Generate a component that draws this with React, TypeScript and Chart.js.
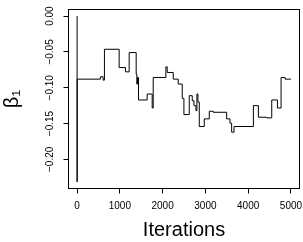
import { useEffect, useRef } from "react";
import { Chart, registerables } from "chart.js";

Chart.register(...registerables);

const iterations = [0, 1, 2, 546, 609, 640, 984, 1132, 1218, 1382, 1397, 1413, 1436, 1639, 1756, 1780, 2076, 2108, 2248, 2365, 2459, 2498, 2623, 2693, 2732, 2779, 2802, 2826, 2857, 2974, 3091, 3185, 3497, 3575, 3614, 3669, 4122, 4239, 4434, 4551, 4684, 4769, 4863, 5000];
const betaValues = [0.0, -0.2315, -0.088, -0.0847, -0.0894, -0.0463, -0.0718, -0.0778, -0.0509, -0.081, -0.0949, -0.0857, -0.1171, -0.1088, -0.1283, -0.0857, -0.0708, -0.0787, -0.088, -0.0949, -0.1148, -0.1375, -0.1111, -0.1181, -0.125, -0.132, -0.1088, -0.12, -0.1542, -0.1435, -0.1329, -0.1343, -0.1435, -0.1495, -0.1621, -0.1542, -0.125, -0.1412, -0.1421, -0.1171, -0.1283, -0.0857, -0.088, -0.088];
const xTickValues = [0, 1000, 2000, 3000, 4000, 5000];
const xTickLabels = ["0", "1000", "2000", "3000", "4000", "5000"];
const yTickValues = [0, -0.05, -0.1, -0.15, -0.2];
const yTickLabels = ["0.00", "\u22120.05", "\u22120.10", "\u22120.15", "\u22120.20"];
const xAxisTitle = "Iterations";
const yAxisTitle = "\u03B2\u2081";

function paddedRange(vals: number[]): [number, number] {
  const mn = Math.min(...vals);
  const mx = Math.max(...vals);
  const p = (mx - mn) * 0.04;
  return [mn - p, mx + p];
}

const FONT = "'Liberation Sans', Arial, Helvetica, sans-serif";

export default function App() {
  const ref = useRef<HTMLCanvasElement>(null);
  useEffect(() => {
    if (!ref.current) return;
    const [xMin, xMax] = paddedRange(iterations);
    const [yMin, yMax] = paddedRange(betaValues);
    const boxPlugin = {
      id: "box",
      afterDraw(chart: any) {
        const { left, top, right, bottom } = chart.chartArea;
        const ctx = chart.ctx;
        ctx.save();
        ctx.strokeStyle = "#000";
        ctx.lineWidth = 1;
        ctx.strokeRect(left, top, right - left, bottom - top);
        ctx.restore();
      },
    };
    const chart = new Chart(ref.current, {
      type: "line",
      data: {
        datasets: [
          {
            data: iterations.map((x, i) => ({ x, y: betaValues[i] })),
            borderColor: "#000",
            borderWidth: 1,
            pointRadius: 0,
            stepped: true,
            fill: false,
          },
        ],
      },
      options: {
        animation: false,
        responsive: false,
        events: [],
        layout: { padding: { top: 9.5, right: 3.5, left: 0, bottom: 0 } },
        plugins: { legend: { display: false }, tooltip: { enabled: false } },
        scales: {
          x: {
            type: "linear",
            min: xMin,
            max: xMax,
            afterBuildTicks: (s: any) => {
              s.ticks = xTickValues.map((v) => ({ value: v }));
            },
            afterFit: (s: any) => {
              s.height = 53.5;
              s.paddingLeft = 0;
              s.paddingRight = 0;
              s.paddingTop = 0;
              s.paddingBottom = 0;
            },
            grid: { drawOnChartArea: false, color: "#000", tickLength: 5 },
            border: { display: false },
            ticks: {
              color: "#000",
              font: { family: FONT, size: 10 },
              padding: 7,
              maxRotation: 0,
              minRotation: 0,
              autoSkip: false,
              callback: (v: any) => xTickLabels[xTickValues.indexOf(Number(v))] ?? String(v),
            },
            title: {
              display: true,
              text: xAxisTitle,
              color: "#000",
              font: { family: FONT, size: 20 },
              padding: 0,
            },
          },
          y: {
            type: "linear",
            min: yMin,
            max: yMax,
            afterBuildTicks: (s: any) => {
              s.ticks = yTickValues.map((v) => ({ value: v }));
            },
            afterFit: (s: any) => {
              s.width = 68.5;
              s.paddingLeft = 0;
              s.paddingRight = 0;
              s.paddingTop = 0;
              s.paddingBottom = 0;
            },
            grid: { drawOnChartArea: false, color: "#000", tickLength: 5 },
            border: { display: false },
            ticks: {
              color: "#000",
              font: { family: FONT, size: 10 },
              padding: 1,
              minRotation: 90,
              maxRotation: 90,
              crossAlign: "center",
              autoSkip: false,
              callback: (v: any, i: number) => yTickLabels[yTickValues.indexOf(Number(v))] ?? yTickLabels[i],
            },
            title: {
              display: true,
              text: yAxisTitle,
              color: "#000",
              font: { family: FONT, size: 20 },
              padding: 0,
            },
          },
        },
      },
      plugins: [boxPlugin],
    } as any);
    return () => chart.destroy();
  }, []);
  return (
    <div style={{ position: "fixed", left: 0, top: 0, width: 303, height: 242, background: "#fff" }}>
      <canvas ref={ref} width={303} height={242} style={{ width: 303, height: 242, display: "block" }} />
    </div>
  );
}
